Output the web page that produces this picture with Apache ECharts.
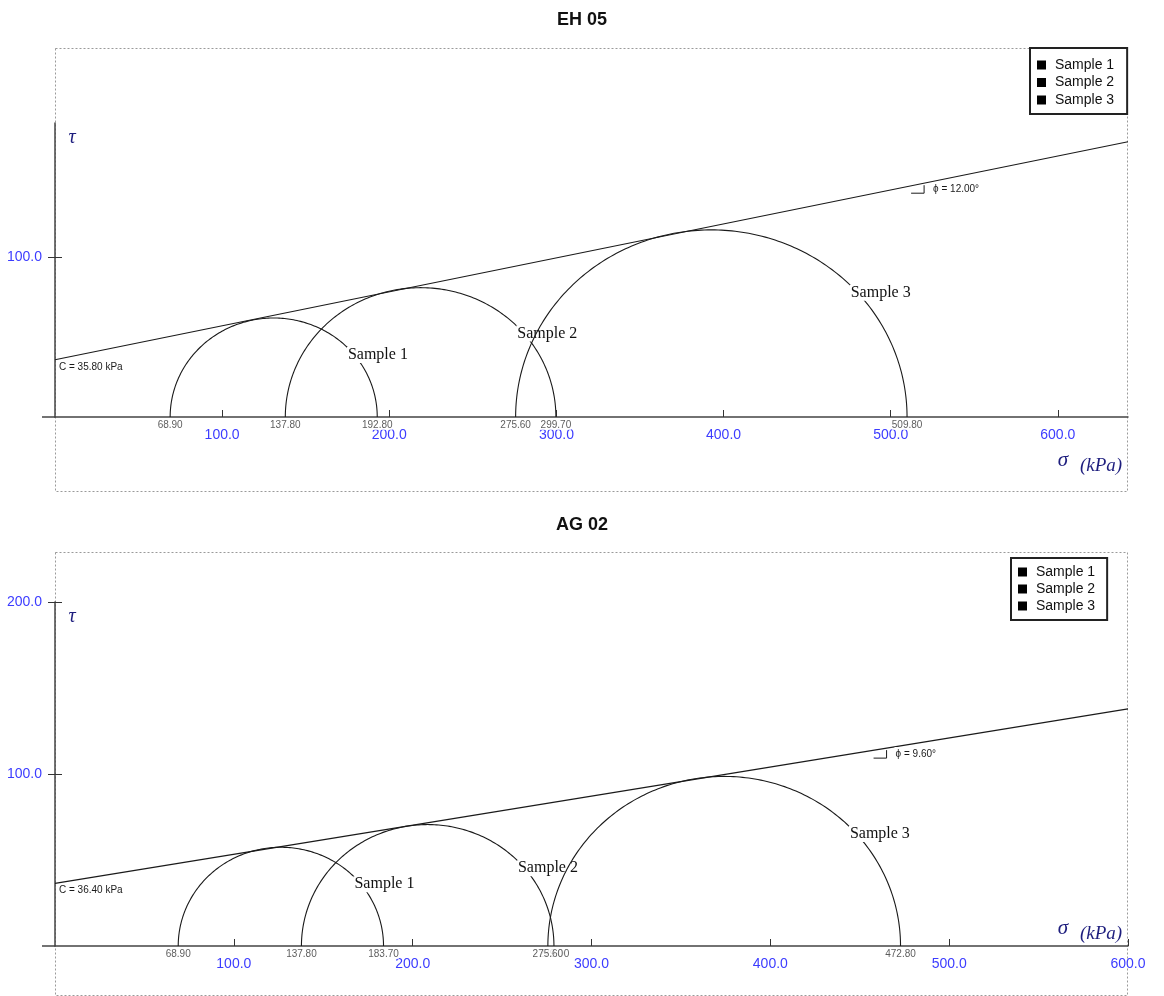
<!DOCTYPE html>
<html><head><meta charset="utf-8">
<script src="https://cdn.jsdelivr.net/npm/echarts@6/dist/echarts.min.js"></script>
<style>html,body{margin:0;padding:0;background:#fff}#c{width:1164px;height:996px}</style>
</head><body><div id="c"></div>
<script>
// ---- data ----
const titles = ['EH 05', 'AG 02'];
const sampleNames = ['Sample 1', 'Sample 2', 'Sample 3'];
const sigma3 = [[68.9, 137.8, 275.6], [68.9, 137.8, 275.6]];
const sigma1 = [[192.8, 299.7, 509.8], [183.7, 279.0, 472.8]];
const cohesion = [35.8, 36.4];
const phiDeg = [12.0, 9.6];
const xMax = [642, 600];
const yMax = [184, 200];
const xTicks = [100, 200, 300, 400, 500, 600];
const yTicks = [[100], [100, 200]];
const phiLabelSigma = [520, 465];

// ---- layout / style ----
const GRID = [{left: 55, right: 36, top: 123, height: 294}, {left: 55, right: 36, top: 602, height: 344}];
const FRAME = [{x: 55, y: 48, w: 1072, h: 443}, {x: 55, y: 552, w: 1072, h: 443}];
const TITLE_TOP = [6, 511];
const LEGEND = [{left: 1030, top: 48, gap: 3.5, pad: [10, 13, 7, 7]}, {left: 1011, top: 558, gap: 3, pad: [7, 12, 7, 7]}];
const SIGMA_DY = [43, -18];
const BLUE = '#3c3cff', NAVY = '#1e1e7e', INK = '#1a1a1a', AXIS = '#444';

const chart = echarts.init(document.getElementById('c'));
const fmt1 = v => Number(v).toFixed(1);

const xAxes = [], yAxes = [], series = [], graphics = [];

[0, 1].forEach(i => {
  xAxes.push({
    gridIndex: i, type: 'value', min: 0, max: xMax[i],
    axisLine: {onZero: false, lineStyle: {color: AXIS, width: 1.5}},
    axisTick: {inside: true, length: 7, customValues: xTicks, lineStyle: {color: '#333'}},
    axisLabel: {customValues: xTicks, formatter: fmt1, color: BLUE, fontSize: 14, fontFamily: 'Arial', margin: 11},
    splitLine: {show: false}
  });
  yAxes.push({
    gridIndex: i, type: 'value', min: 0, max: yMax[i], position: 'left', offset: 0,
    axisLine: {show: true, onZero: false, lineStyle: {color: AXIS, width: 1.5}},
    axisTick: {show: true, length: 7, customValues: yTicks[i], lineStyle: {color: '#333'}},
    axisLabel: {customValues: yTicks[i], formatter: fmt1, color: BLUE, fontSize: 14, fontFamily: 'Arial', margin: 13},
    splitLine: {show: false}
  });
  yAxes.push({
    gridIndex: i, type: 'value', min: 0, max: yMax[i], position: 'left', offset: 0,
    axisLine: {show: false, onZero: false},
    axisTick: {show: true, inside: true, length: 7, customValues: yTicks[i], lineStyle: {color: '#333'}},
    axisLabel: {show: false},
    splitLine: {show: false}
  });

  const t = Math.tan(phiDeg[i] * Math.PI / 180);
  series.push({
    type: 'line', xAxisIndex: i, yAxisIndex: 2 * i, silent: true, symbol: 'none',
    data: [[0, cohesion[i]], [xMax[i], cohesion[i] + xMax[i] * t]],
    lineStyle: {color: INK, width: 1.1}, z: 2
  });

  sampleNames.forEach((name, k) => {
    series.push({
      type: 'custom', name: name, xAxisIndex: i, yAxisIndex: 2 * i, silent: true,
      itemStyle: {color: '#000'}, z: 3,
      data: [[sigma3[i][k], sigma1[i][k]]],
      renderItem: (params, api) => {
        const s3 = api.value(0), s1 = api.value(1);
        const c = (s3 + s1) / 2, r = (s1 - s3) / 2;
        const pts = [];
        for (let d = 0; d <= 180; d += 1) {
          const a = d * Math.PI / 180;
          pts.push(api.coord([c + r * Math.cos(a), r * Math.sin(a)]));
        }
        const lp = api.coord([c + r * Math.SQRT1_2, r * Math.SQRT1_2]);
        return {type: 'group', children: [
          {type: 'polyline', shape: {points: pts}, style: {stroke: INK, lineWidth: 1.1, fill: null}},
          {type: 'text', x: lp[0], y: lp[1], style: {text: name, fill: '#111', font: '16px "Liberation Serif"',
            align: 'left', verticalAlign: 'top', backgroundColor: '#fff', padding: [0, 1]}}
        ]};
      }
    });
  });

  series.push({
    type: 'scatter', xAxisIndex: i, yAxisIndex: 2 * i, silent: true, symbolSize: 0.01, z: 10,
    data: sigma3[i].flatMap((s, k) => [[s, 0], [sigma1[i][k], 0]]),
    itemStyle: {color: 'transparent'},
    label: {show: true, position: 'bottom', distance: 3, formatter: p => p.value[0].toFixed(2),
      fontSize: 10, fontFamily: 'Arial', color: '#333', backgroundColor: '#fff', padding: 0},
    labelLayout: {hideOverlap: false}
  });

  series.push({
    type: 'custom', xAxisIndex: i, yAxisIndex: 2 * i, silent: true, z: 11,
    data: [[phiLabelSigma[i], cohesion[i], phiDeg[i]]],
    renderItem: (params, api) => {
      const sa = api.value(0), C = api.value(1), phi = api.value(2);
      const tt = Math.tan(phi * Math.PI / 180);
      const p0 = api.coord([0, C]);
      const pa = api.coord([sa, C + sa * tt]);
      return {type: 'group', children: [
        {type: 'text', x: p0[0] + 4, y: p0[1] + 7, style: {text: 'C = ' + C.toFixed(2) + ' kPa', font: '10px Arial', fill: INK, align: 'left', verticalAlign: 'middle'}},
        {type: 'polyline', shape: {points: [[pa[0] - 13, pa[1] + 10], [pa[0], pa[1] + 10], [pa[0], pa[1] + 2]]}, style: {stroke: INK, lineWidth: 1, fill: null}},
        {type: 'text', x: pa[0] + 8, y: pa[1] + 6, style: {text: '\u03D5 = ' + phi.toFixed(2) + '\u00B0', font: '10px Arial', fill: INK,
          align: 'left', verticalAlign: 'middle', backgroundColor: '#fff', padding: [2, 1]}}
      ]};
    }
  });

  const f = FRAME[i], g = GRID[i];
  const axisY = g.top + g.height;
  graphics.push({type: 'rect', silent: true, z: -10, shape: {x: f.x + 0.5, y: f.y + 0.5, width: f.w, height: f.h},
    style: {fill: null, stroke: '#9a9a9a', lineWidth: 1, lineDash: [2, 2]}});
  graphics.push({type: 'line', silent: true, shape: {x1: g.left - 13, y1: axisY, x2: g.left, y2: axisY},
    style: {stroke: AXIS, lineWidth: 1.5}});
  graphics.push({type: 'text', silent: true, x: g.left + 17, y: g.top + 15,
    style: {text: '\u03C4', font: 'italic 20px "Liberation Serif"', fill: NAVY, align: 'center', verticalAlign: 'middle'}});
  graphics.push({type: 'text', silent: true, x: 1063, y: axisY + SIGMA_DY[i],
    style: {text: '\u03C3', font: 'italic 21px "Liberation Serif"', fill: NAVY, align: 'center', verticalAlign: 'middle'}});
  graphics.push({type: 'text', silent: true, x: 1080, y: axisY + SIGMA_DY[i] + 6,
    style: {text: '(kPa)', font: 'italic 19px "Liberation Serif"', fill: NAVY, align: 'left', verticalAlign: 'middle'}});
});

const option = {
  backgroundColor: '#fff',
  animation: false,
  title: titles.map((t, i) => ({text: t, left: 'center', top: TITLE_TOP[i],
    textStyle: {fontFamily: 'Arial', fontSize: 18, fontWeight: 'bold', color: '#111'}})),
  legend: LEGEND.map(l => ({
    left: l.left, top: l.top, orient: 'vertical', data: sampleNames, icon: 'rect',
    itemWidth: 9, itemHeight: 9, itemGap: l.gap, padding: l.pad, selectedMode: false,
    borderColor: '#222', borderWidth: 2, backgroundColor: '#fff',
    textStyle: {fontSize: 14, fontFamily: 'Arial', color: '#111', lineHeight: 14, padding: [0, 0, 0, 4]}
  })),
  grid: GRID.map(g => Object.assign({}, g)),
  xAxis: xAxes,
  yAxis: yAxes,
  series: series,
  graphic: graphics
};
chart.setOption(option);
</script>
</body></html>
